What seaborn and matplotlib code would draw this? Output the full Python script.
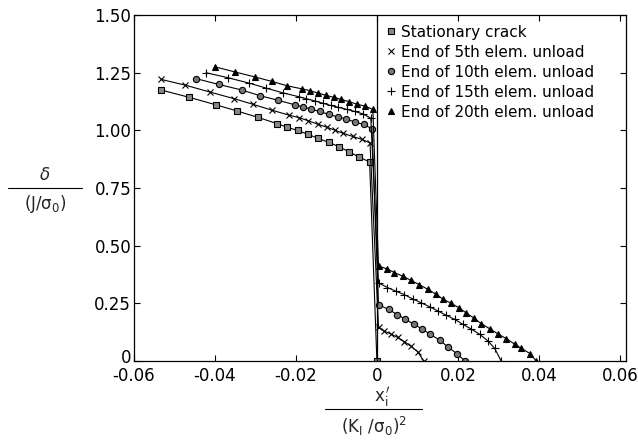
import numpy as np
import pandas as pd
import matplotlib
matplotlib.use("Agg")
import matplotlib.pyplot as plt
import matplotlib.transforms as mtransforms
import seaborn as sns

stat_x = [-0.0533, -0.0465, -0.0398, -0.0345, -0.0293, -0.0246, -0.0221, -0.0196, -0.0170,
          -0.0145, -0.0119, -0.0093, -0.0069, -0.0043, -0.0018, 0.0]
stat_y = [1.175, 1.144, 1.111, 1.084, 1.056, 1.029, 1.013, 1.000, 0.983,
          0.965, 0.948, 0.929, 0.907, 0.884, 0.863, 0.0]

e5_x = [-0.0533, -0.0473, -0.0412, -0.0352, -0.0306, -0.0260, -0.0217, -0.0192, -0.0170, -0.0146,
        -0.0124, -0.0104, -0.0083, -0.0060, -0.0037, -0.0017,
        0.0004, 0.0018, 0.0035, 0.0051, 0.0068, 0.0084, 0.0101, 0.0116]
e5_y = [1.221, 1.196, 1.166, 1.137, 1.113, 1.088, 1.066, 1.055, 1.042, 1.027,
        1.014, 1.001, 0.987, 0.974, 0.961, 0.946,
        0.146, 0.130, 0.117, 0.103, 0.084, 0.065, 0.040, 0.0]

e10_x = [-0.0446, -0.0390, -0.0334, -0.0288, -0.0245, -0.0203, -0.0183, -0.0162, -0.0141, -0.0119,
         -0.0097, -0.0076, -0.0055, -0.0033, -0.0012,
         0.0004, 0.0029, 0.0050, 0.0070, 0.0091, 0.0112, 0.0132, 0.0155, 0.0175, 0.0197, 0.0218]
e10_y = [1.224, 1.199, 1.175, 1.150, 1.131, 1.111, 1.102, 1.092, 1.082, 1.069,
         1.059, 1.050, 1.036, 1.026, 1.007,
         0.244, 0.224, 0.202, 0.182, 0.160, 0.139, 0.116, 0.091, 0.062, 0.033, 0.0]

e15_x = [-0.0422, -0.0367, -0.0316, -0.0273, -0.0233, -0.0193, -0.0174, -0.0154, -0.0134, -0.0114,
         -0.0095, -0.0074, -0.0055, -0.0035, -0.0015,
         0.0004, 0.0026, 0.0047, 0.0068, 0.0088, 0.0109, 0.0130, 0.0150, 0.0171, 0.0192,
         0.0212, 0.0233, 0.0254, 0.0274, 0.0291, 0.0307]
e15_y = [1.250, 1.228, 1.205, 1.183, 1.163, 1.146, 1.137, 1.128, 1.118, 1.108,
         1.100, 1.091, 1.082, 1.072, 1.053,
         0.339, 0.319, 0.303, 0.288, 0.270, 0.253, 0.236, 0.218, 0.199, 0.181,
         0.160, 0.139, 0.116, 0.088, 0.055, 0.0]

e20_x = [-0.0401, -0.0350, -0.0300, -0.0259, -0.0221, -0.0185, -0.0165, -0.0146, -0.0126, -0.0106,
         -0.0088, -0.0068, -0.0048, -0.0029, -0.0010,
         0.0004, 0.0026, 0.0043, 0.0064, 0.0084, 0.0105, 0.0126, 0.0146, 0.0163, 0.0184,
         0.0204, 0.0221, 0.0241, 0.0258, 0.0279, 0.0299, 0.0320, 0.0340, 0.0357, 0.0378, 0.0394]
e20_y = [1.276, 1.253, 1.231, 1.212, 1.193, 1.180, 1.172, 1.162, 1.152, 1.143,
         1.134, 1.124, 1.113, 1.105, 1.091,
         0.412, 0.399, 0.384, 0.368, 0.350, 0.331, 0.311, 0.290, 0.269, 0.250,
         0.230, 0.208, 0.185, 0.162, 0.140, 0.118, 0.097, 0.074, 0.055, 0.033, 0.0]

labels = ["Stationary crack", "End of 5th elem. unload", "End of 10th elem. unload",
          "End of 15th elem. unload", "End of 20th elem. unload"]
xs = [stat_x, e5_x, e10_x, e15_x, e20_x]
ys = [stat_y, e5_y, e10_y, e15_y, e20_y]
markers = ["s", "x", "o", "+", "^"]
faces = ["#888888", "k", "#777777", "k", "k"]
msizes = [4, 4.5, 4.5, 5.5, 4]

xticks = [-0.06, -0.04, -0.02, 0, 0.02, 0.04, 0.06]
xticklabels = ["-0.06", "-0.04", "-0.02", "0", "0.02", "0.04", "0.06"]
yticks = [0, 0.25, 0.50, 0.75, 1.00, 1.25, 1.50]
yticklabels = ["0", "0.25", "0.50", "0.75", "1.00", "1.25", "1.50"]

sns.set_style("ticks")
plt.rcParams["font.family"] = ["DejaVu Sans"]
plt.rcParams["mathtext.fontset"] = "dejavusans"

fig = plt.figure(figsize=(6.38, 4.42), dpi=100)
ax = fig.add_axes([0.210, 0.183, 0.771, 0.783])

for x, y, lab, m, fc, ms in zip(xs, ys, labels, markers, faces, msizes):
    df = pd.DataFrame({"x": x, "y": y})
    sns.lineplot(data=df, x="x", y="y", ax=ax, sort=False, color="k", lw=0.8,
                 marker=m, markersize=ms, markerfacecolor=fc, markeredgecolor="k",
                 markeredgewidth=0.8, label=lab)

# crack-tip line
ax.axvline(0, color="k", lw=0.9)

ax.set_xlim(-0.06, 0.0615)
ax.set_ylim(0, 1.5)
ax.set_xticks(xticks)
ax.set_xticklabels(xticklabels)
ax.set_yticks(yticks)
ax.set_yticklabels(yticklabels)
ax.tick_params(direction="in", top=True, right=True, labelsize=12, length=4, width=0.8,
               pad=2, colors="k")
ax.tick_params(axis="x", pad=4)
ax.set_xlabel("")
ax.set_ylabel("")
for s in ax.spines.values():
    s.set_linewidth(0.9)
    s.set_color("k")

# lift the y "0" a little so it clears the "-0.06" below it
lab0 = ax.get_yticklabels()[0]
lab0.set_transform(lab0.get_transform() + mtransforms.ScaledTranslation(0, 4 / 72, fig.dpi_scale_trans))

leg = ax.legend(loc="upper left", bbox_to_anchor=(0.50, 0.99), frameon=False, fontsize=11,
                handlelength=0.6, handletextpad=0.4, labelspacing=0.33, borderaxespad=0)
for h in leg.get_lines():
    h.set_linestyle("")
for t in leg.get_texts():
    t.set_color("k")

# fraction-style axis labels
fig.text(382 / 638, 1 - 397 / 442, r"$\mathsf{x_i^{\,\prime}}$", ha="center", va="center", fontsize=12)
fig.add_artist(plt.Line2D([325 / 638, 422 / 638], [1 - 409 / 442] * 2, color="k", lw=0.8))
fig.text(374 / 638, 1 - 426 / 442, r"$\mathsf{(K_I\ /\sigma_0)^2}$", ha="center", va="center", fontsize=12)

fig.text(45 / 638, 1 - 175 / 442, r"$\delta$", ha="center", va="center", fontsize=12)
fig.add_artist(plt.Line2D([8 / 638, 82 / 638], [1 - 188 / 442] * 2, color="k", lw=0.8))
fig.text(45 / 638, 1 - 204 / 442, r"$\mathsf{(J/\sigma_0)}$", ha="center", va="center", fontsize=12)

fig.savefig("out.png", dpi=100)
